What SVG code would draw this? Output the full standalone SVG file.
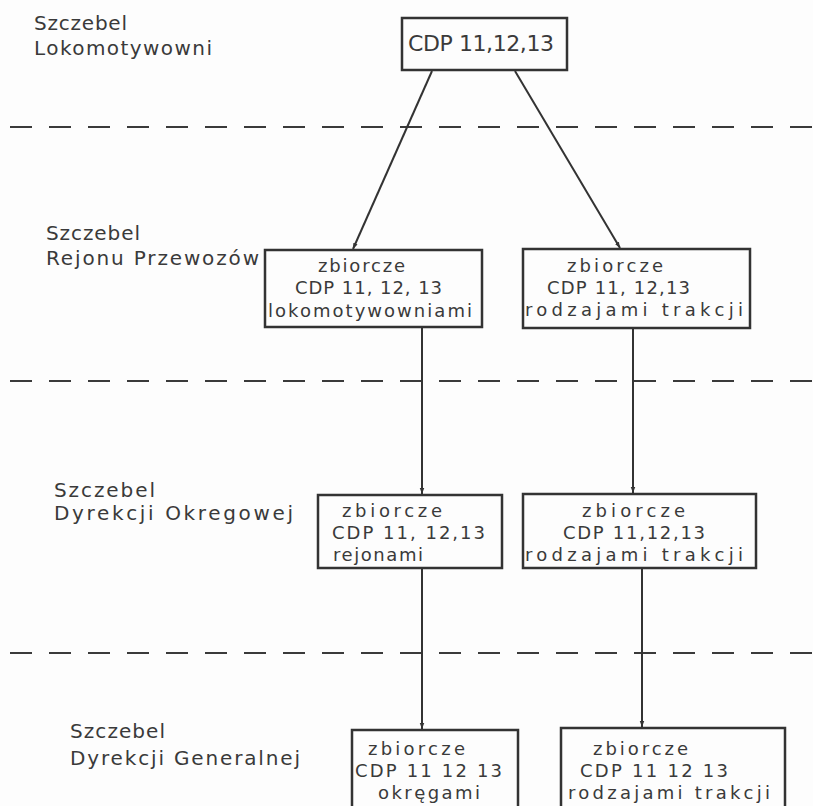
<svg xmlns="http://www.w3.org/2000/svg" width="813" height="806" viewBox="0 0 813 806">
<defs>
<style>
.bg{fill:#fdfdfd}
.box{fill:none;stroke:#333;stroke-width:2.5}
.dash{stroke:#3a3a3a;stroke-width:2;stroke-dasharray:22 17;fill:none}
.con{stroke:#333;stroke-width:2;fill:none}
.t{font-family:"DejaVu Sans","Liberation Sans",sans-serif;font-size:18px;fill:#3a3a3a}
.tl{font-family:"DejaVu Sans","Liberation Sans",sans-serif;font-size:20px;fill:#3a3a3a}
.tt{font-family:"DejaVu Sans","Liberation Sans",sans-serif;font-size:22px;fill:#3a3a3a}
</style>
<marker id="ah" viewBox="0 0 8 8" refX="8" refY="4" markerWidth="6" markerHeight="6" markerUnits="userSpaceOnUse" orient="auto">
<path d="M0,1 L8,4 L0,7 Z" fill="#333"/>
</marker>
</defs>
<rect class="bg" x="0" y="0" width="813" height="806"/>

<g id="separators">
<line class="dash" x1="10" y1="127" x2="813" y2="127"/>
<line class="dash" x1="10" y1="381" x2="813" y2="381"/>
<line class="dash" x1="10" y1="653" x2="813" y2="653"/>
</g>

<g id="level-labels">
<text class="tl" x="34" y="30" textLength="93" lengthAdjust="spacing">Szczebel</text>
<text class="tl" x="34" y="55" textLength="178" lengthAdjust="spacing">Lokomotywowni</text>
<text class="tl" x="46" y="240" textLength="94" lengthAdjust="spacing">Szczebel</text>
<text class="tl" x="46" y="265" textLength="213" lengthAdjust="spacing">Rejonu Przewozów</text>
<text class="tl" x="54" y="497" textLength="101" lengthAdjust="spacing">Szczebel</text>
<text class="tl" x="54" y="520" textLength="239" lengthAdjust="spacing">Dyrekcji Okregowej</text>
<text class="tl" x="70" y="738" textLength="95" lengthAdjust="spacing">Szczebel</text>
<text class="tl" x="70" y="765" textLength="230" lengthAdjust="spacing">Dyrekcji Generalnej</text>
</g>

<g id="connectors">
<line class="con" x1="432" y1="71" x2="353" y2="249" marker-end="url(#ah)"/>
<line class="con" x1="515" y1="71" x2="620" y2="248" marker-end="url(#ah)"/>
<line class="con" x1="422" y1="328" x2="422" y2="494" marker-end="url(#ah)"/>
<line class="con" x1="633" y1="329" x2="633" y2="493" marker-end="url(#ah)"/>
<line class="con" x1="422" y1="569" x2="422" y2="729" marker-end="url(#ah)"/>
<line class="con" x1="642" y1="569" x2="642" y2="727" marker-end="url(#ah)"/>
</g>

<g id="n-lok">
<rect class="box" x="402" y="18" width="165" height="52"/>
<text class="tt" x="408" y="51" textLength="146" lengthAdjust="spacing">CDP 11,12,13</text>
</g>

<g id="n-rej-lok">
<rect class="box" x="265" y="250" width="217" height="77"/>
<text class="t" x="318" y="272" textLength="87" lengthAdjust="spacing">zbiorcze</text>
<text class="t" x="295" y="294" textLength="147" lengthAdjust="spacing">CDP 11, 12, 13</text>
<text class="t" x="268" y="317" textLength="204" lengthAdjust="spacing">lokomotywowniami</text>
</g>

<g id="n-rej-trak">
<rect class="box" x="523" y="249" width="227" height="79"/>
<text class="t" x="567" y="272" textLength="96" lengthAdjust="spacing">zbiorcze</text>
<text class="t" x="547" y="294" textLength="143" lengthAdjust="spacing">CDP 11, 12,13</text>
<text class="t" x="525" y="316" textLength="218" lengthAdjust="spacing">rodzajami trakcji</text>
</g>

<g id="n-okr-rej">
<rect class="box" x="318" y="495" width="184" height="73"/>
<text class="t" x="342" y="517" textLength="100" lengthAdjust="spacing">zbiorcze</text>
<text class="t" x="332" y="539" textLength="153" lengthAdjust="spacing">CDP 11, 12,13</text>
<text class="t" x="333" y="561" textLength="90" lengthAdjust="spacing">rejonami</text>
</g>

<g id="n-okr-trak">
<rect class="box" x="523" y="494" width="233" height="74"/>
<text class="t" x="582" y="517" textLength="103" lengthAdjust="spacing">zbiorcze</text>
<text class="t" x="563" y="539" textLength="142" lengthAdjust="spacing">CDP 11,12,13</text>
<text class="t" x="525" y="561" textLength="218" lengthAdjust="spacing">rodzajami trakcji</text>
</g>

<g id="n-gen-okr">
<rect class="box" x="352" y="730" width="166" height="100"/>
<text class="t" x="368" y="755" textLength="97" lengthAdjust="spacing">zbiorcze</text>
<text class="t" x="355" y="777" textLength="147" lengthAdjust="spacing">CDP 11 12 13</text>
<text class="t" x="378" y="799" textLength="102" lengthAdjust="spacing">okręgami</text>
</g>

<g id="n-gen-trak">
<rect class="box" x="561" y="728" width="224" height="100"/>
<text class="t" x="593" y="755" textLength="95" lengthAdjust="spacing">zbiorcze</text>
<text class="t" x="580" y="777" textLength="148" lengthAdjust="spacing">CDP 11 12 13</text>
<text class="t" x="568" y="799" textLength="202" lengthAdjust="spacing">rodzajami trakcji</text>
</g>
</svg>
